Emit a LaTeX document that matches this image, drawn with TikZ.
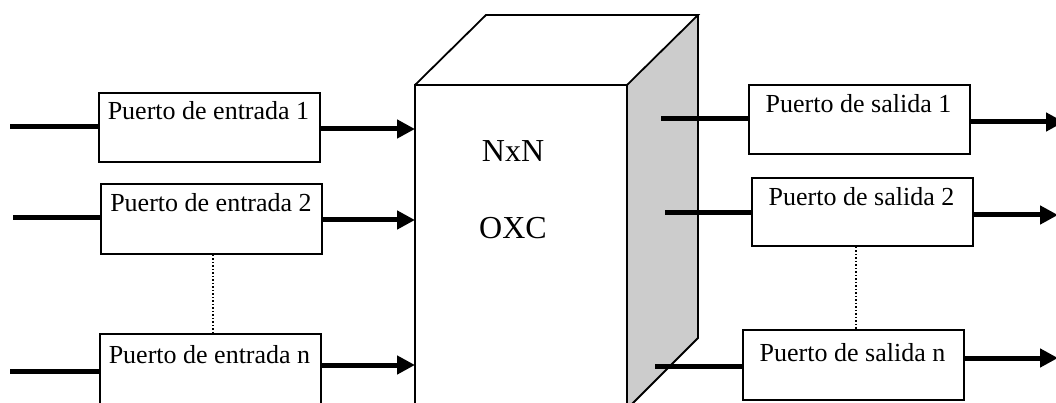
\documentclass[tikz,border=0pt]{standalone}
\usepackage{fontspec}
\setmainfont{Liberation Serif}
\usetikzlibrary{arrows.meta}
\definecolor{facegray}{HTML}{CCCCCC}
\begin{document}
\begin{tikzpicture}[x=1pt,y=-1pt,
  portbox/.style={draw,line width=1.8pt,fill=white,minimum width=221pt,minimum height=#1,inner sep=0pt,anchor=north west},
  portbox/.default=69pt,
  porttext/.style={anchor=base,font=\fontsize{26}{30}\selectfont,inner sep=0pt},
  cubetext/.style={anchor=base,font=\fontsize{32}{36}\selectfont,inner sep=0pt},
  feed/.style={line width=5pt},
  feedarrow/.style={line width=5pt,-{Triangle[length=18pt,width=18pt]}},
  cubeline/.style={line width=1.8pt,line join=miter},
  dots/.style={line width=1.5pt,dotted}]
\useasboundingbox (0,0) rectangle (1056,403);
\clip (0,0) rectangle (1056,403);
% cube
\coordinate (fa) at (415,85);
\coordinate (fb) at (627,85);
\coordinate (ta) at (486,15);
\coordinate (tb) at (698,15);
\coordinate (rb) at (698,338);
\coordinate (rc) at (627,409);
\coordinate (fc) at (627,420);
\coordinate (fd) at (415,420);
\fill[facegray] (fb) -- (tb) -- (rb) -- (rc) -- cycle;
\draw[cubeline] (fd) -- (fa) -- (fb) -- (fc);
\draw[cubeline] (fa) -- (ta) -- (tb) -- (fb);
\draw[cubeline] (tb) -- (rb) -- (rc);
\node[cubetext] (nxn) at (513,162) {NxN};
\node[cubetext] (oxc) at (513,239) {OXC};
% input boxes
\node[portbox] (in1) at (98,92) {};
\node[portbox=70pt] (in2) at (100,183) {};
\node[portbox=90pt] (inn) at (99,333) {};
\node[porttext] at (208.5,120) {Puerto de entrada 1};
\node[porttext] at (211,212) {Puerto de entrada 2};
\node[porttext] at (209.5,363) {Puerto de entrada n};
% output boxes
\node[portbox] (out1) at (748,84) {};
\node[portbox=68pt] (out2) at (751,177) {};
\node[portbox=70pt] (outn) at (742,329) {};
\node[porttext] at (858.5,113) {Puerto de salida 1};
\node[porttext] at (861.5,206) {Puerto de salida 2};
\node[porttext] at (852.5,361) {Puerto de salida n};
% dotted links
\draw[dots] (in2.south -| 213,0) -- (inn.north -| 213,0);
\draw[dots] (out2.south -| 856,0) -- (outn.north -| 856,0);
% input feeds
\coordinate (s1) at (10,127);
\coordinate (s2) at (13,218);
\coordinate (sn) at (10,371);
\draw[feed] (s1) -- (s1 -| in1.west);
\draw[feed] (s2) -- (s2 -| in2.west);
\draw[feed] (sn) -- (sn -| inn.west);
\coordinate (e1) at (415,129);
\coordinate (e2) at (415,220);
\coordinate (en) at (415,365);
\draw[feedarrow] (e1 -| in1.east) -- (e1);
\draw[feedarrow] (e2 -| in2.east) -- (e2);
\draw[feedarrow] (en -| inn.east) -- (en);
% output feeds
\coordinate (o1) at (661,119);
\coordinate (o2) at (665,213);
\coordinate (on) at (655,366);
\draw[feed] (o1) -- (o1 -| out1.west);
\draw[feed] (o2) -- (o2 -| out2.west);
\draw[feed] (on) -- (on -| outn.west);
\coordinate (t1) at (1064,122);
\coordinate (t2) at (1058,215);
\coordinate (tn) at (1058,358);
\draw[feedarrow] (t1 -| out1.east) -- (t1);
\draw[feedarrow] (t2 -| out2.east) -- (t2);
\draw[feedarrow] (tn -| outn.east) -- (tn);
\end{tikzpicture}
\end{document}
